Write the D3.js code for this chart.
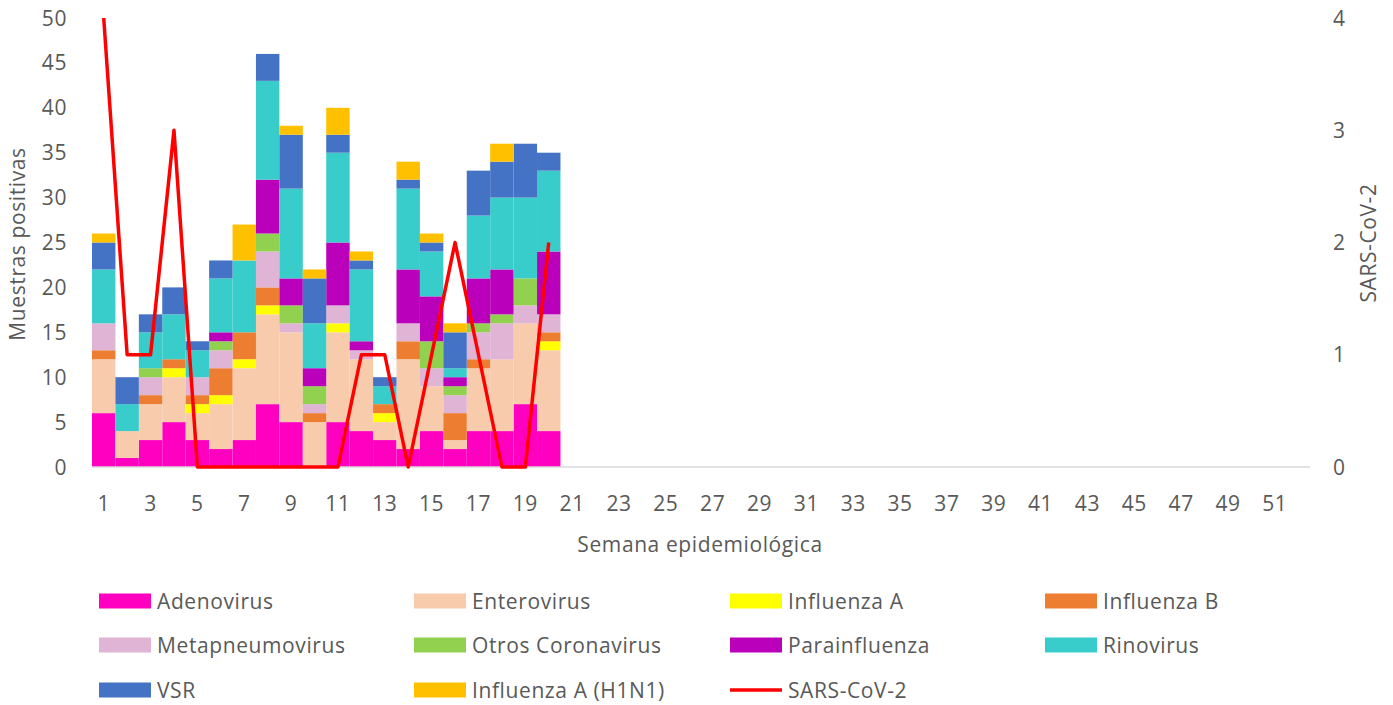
<!DOCTYPE html>
<html>
<head>
<meta charset="utf-8">
<script src="https://cdn.jsdelivr.net/npm/d3@7"></script>
<style>
  body { margin: 0; background: #fff; }
  svg { font-family: "Open Sans", sans-serif; }
  text { letter-spacing: 0.6px; }
</style>
</head>
<body>
<svg id="chart" width="1393" height="705"></svg>
<script>
// semanas epidemiologicas 1..52
var weeks = d3.range(1, 53);

// muestras positivas por semana (semanas 1-20)
var adenovirus   = [6, 1, 3, 5, 3, 2, 3, 7, 5, 0, 5, 4, 3, 2, 4, 2, 4, 4, 7, 4];
var enterovirus  = [6, 3, 4, 5, 3, 5, 8, 10, 10, 5, 10, 8, 2, 10, 5, 1, 7, 8, 9, 9];
var influenzaA   = [0, 0, 0, 1, 1, 1, 1, 1, 0, 0, 1, 0, 1, 0, 0, 0, 0, 0, 0, 1];
var influenzaB   = [1, 0, 1, 1, 1, 3, 3, 2, 0, 1, 0, 0, 1, 2, 0, 3, 1, 0, 0, 1];
var metapneumo   = [3, 0, 2, 0, 2, 2, 0, 4, 1, 1, 2, 1, 0, 2, 2, 2, 3, 4, 2, 2];
var otrosCorona  = [0, 0, 1, 0, 0, 1, 0, 2, 2, 2, 0, 0, 0, 0, 3, 1, 1, 1, 3, 0];
var parainfluenza= [0, 0, 0, 0, 0, 1, 0, 6, 3, 2, 7, 1, 0, 6, 5, 1, 5, 5, 0, 7];
var rinovirus    = [6, 3, 4, 5, 3, 6, 8, 11, 10, 5, 10, 8, 2, 9, 5, 1, 7, 8, 9, 9];
var vsr          = [3, 3, 2, 3, 1, 2, 0, 3, 6, 5, 2, 1, 1, 1, 1, 4, 5, 4, 6, 2];
var h1n1         = [1, 0, 0, 0, 0, 0, 4, 0, 1, 1, 3, 1, 0, 2, 1, 1, 0, 2, 0, 0];
var sarsCov2     = [4, 1, 1, 3, 0, 0, 0, 0, 0, 0, 0, 1, 1, 0, 1, 2, 1, 0, 0, 2];

var leftTicks = d3.range(0, 51, 5);
var rightTicks = [0, 1, 2, 3, 4];

var series = [
  { name: "Adenovirus", values: adenovirus, color: "#FF00C0" },
  { name: "Enterovirus", values: enterovirus, color: "#F8CBAD" },
  { name: "Influenza A", values: influenzaA, color: "#FFFF00" },
  { name: "Influenza B", values: influenzaB, color: "#ED7D31" },
  { name: "Metapneumovirus", values: metapneumo, color: "#E0B4D4" },
  { name: "Otros Coronavirus", values: otrosCorona, color: "#92D050" },
  { name: "Parainfluenza", values: parainfluenza, color: "#BB00BB" },
  { name: "Rinovirus", values: rinovirus, color: "#38CDCB" },
  { name: "VSR", values: vsr, color: "#4472C4" },
  { name: "Influenza A (H1N1)", values: h1n1, color: "#FFC000" }
];

var textColor = "#595959";
var fs = "21px";
var svg = d3.select("#chart");

var x = d3.scaleBand().domain(weeks).range([92, 1310]).padding(0);
var y = d3.scaleLinear().domain([0, 50]).range([467, 18]);
var y2 = d3.scaleLinear().domain([0, 4]).range([467, 18]);

// build rows for stack
var rows = adenovirus.map(function (d, i) {
  var r = { week: weeks[i] };
  series.forEach(function (s) { r[s.name] = s.values[i]; });
  return r;
});
var stack = d3.stack().keys(series.map(function (s) { return s.name; }));
var stacked = stack(rows);

var layers = svg.append("g").selectAll("g")
  .data(stacked)
  .enter()
  .append("g")
  .attr("fill", function (d, i) { return series[i].color; });

layers.selectAll("rect")
  .data(function (d) { return d; })
  .enter()
  .append("rect")
  .attr("x", function (d) { return x(d.data.week); })
  .attr("width", x.bandwidth())
  .attr("y", function (d) { return y(d[1]); })
  .attr("height", function (d) { return y(d[0]) - y(d[1]); });

// x axis
svg.append("line")
  .attr("x1", 92).attr("x2", 1310)
  .attr("y1", y(0)).attr("y2", y(0))
  .attr("stroke", "#D9D9D9").attr("stroke-width", 1.5);

svg.append("g").selectAll("text")
  .data(weeks.filter(function (w) { return w % 2 === 1; }))
  .enter()
  .append("text")
  .attr("x", function (d) { return x(d) + x.bandwidth() / 2; })
  .attr("y", 511)
  .attr("text-anchor", "middle")
  .attr("font-size", fs)
  .attr("fill", textColor)
  .text(function (d) { return d; });

// left axis
svg.append("g").selectAll("text")
  .data(leftTicks)
  .enter()
  .append("text")
  .attr("x", 67)
  .attr("y", function (d) { return y(d) + 7.5; })
  .attr("text-anchor", "end")
  .attr("font-size", fs)
  .attr("fill", textColor)
  .text(function (d) { return d; });

// right axis
svg.append("g").selectAll("text")
  .data(rightTicks)
  .enter()
  .append("text")
  .attr("x", 1333)
  .attr("y", function (d) { return y2(d) + 7.5; })
  .attr("text-anchor", "start")
  .attr("font-size", fs)
  .attr("fill", textColor)
  .text(function (d) { return d; });

// axis titles
svg.append("text")
  .attr("transform", "translate(25,244) rotate(-90)")
  .attr("text-anchor", "middle")
  .attr("font-size", fs)
  .attr("fill", textColor)
  .text("Muestras positivas");

svg.append("text")
  .attr("transform", "translate(1376,243) rotate(-90)")
  .attr("text-anchor", "middle")
  .attr("font-size", fs)
  .attr("fill", textColor)
  .text("SARS-CoV-2");

svg.append("text")
  .attr("x", 700).attr("y", 552)
  .attr("text-anchor", "middle")
  .attr("font-size", fs)
  .attr("fill", textColor)
  .text("Semana epidemiológica");

// SARS-CoV-2 line
var line = d3.line()
  .x(function (d, i) { return x(weeks[i]) + x.bandwidth() / 2; })
  .y(function (d) { return y2(d); });

svg.append("path")
  .datum(sarsCov2)
  .attr("d", line)
  .attr("fill", "none")
  .attr("stroke", "#FF0000")
  .attr("stroke-width", 3.5)
  .attr("stroke-linejoin", "round");

// legend
var legendItems = series.concat([{ name: "SARS-CoV-2", color: "#FF0000", line: true }]);
var colX = [99, 414, 730, 1045];
var rowY = [601, 645, 690];

var lg = svg.append("g").selectAll("g")
  .data(legendItems)
  .enter()
  .append("g")
  .attr("transform", function (d, i) {
    return "translate(" + colX[i % 4] + "," + rowY[Math.floor(i / 4)] + ")";
  });

lg.each(function (d) {
  var g = d3.select(this);
  if (d.line) {
    g.append("line")
      .attr("x1", 0).attr("x2", 52)
      .attr("y1", 0).attr("y2", 0)
      .attr("stroke", d.color).attr("stroke-width", 3.5);
  } else {
    g.append("rect")
      .attr("x", 0).attr("y", -7.5)
      .attr("width", 52).attr("height", 15)
      .attr("fill", d.color);
  }
  g.append("text")
    .attr("x", 58).attr("y", 7.5)
    .attr("font-size", fs)
    .attr("fill", textColor)
    .text(d.name);
});
</script>
</body>
</html>
